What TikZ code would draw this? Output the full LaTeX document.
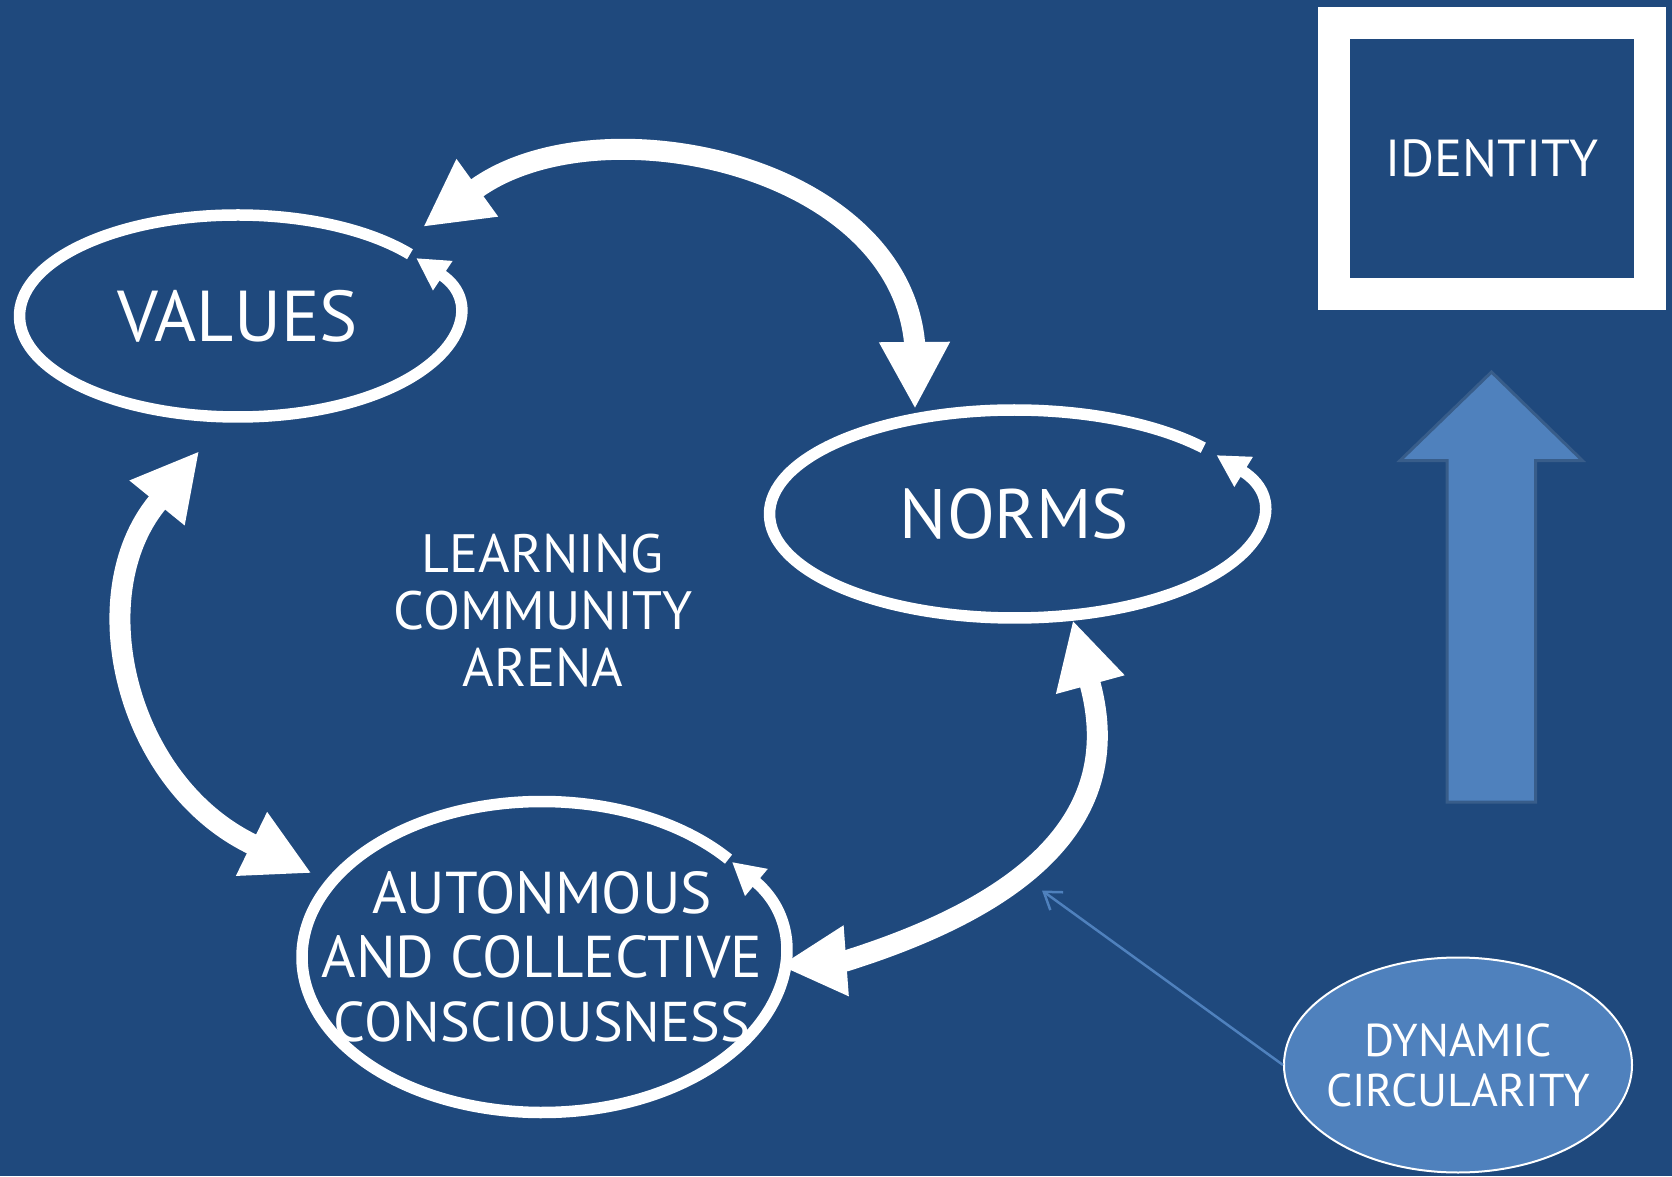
\documentclass[tikz,border=0pt]{standalone}
\usepackage{fontspec}
\setmainfont{PT Sans}
\usetikzlibrary{calc}
\usetikzlibrary{arrows.meta,shapes.geometric}
\definecolor{bgblue}{HTML}{1F497D}
\definecolor{ltblue}{HTML}{4F81BD}
\definecolor{edblue}{HTML}{385D8A}
\newcommand*{\ringwd }{11.5pt}
\newcommand*{\bigwd  }{21pt}
\newcommand*{\fsz}[2]{\fontsize{#1}{#2}\selectfont}
\tikzset{
    ringarrow/.style={draw=white, line width=\ringwd, -{Triangle[length=32pt,width=33pt]}},
    bigarrow/.style ={draw=white, line width=\bigwd, {Triangle[length=67pt,width=66pt]}-{Triangle[length=67pt,width=66pt]}},
    whitetext/.style={text=white, align=center, inner sep=0pt},
}

\begin{document}
\begin{tikzpicture}[x=1pt, y=1pt]
    \useasboundingbox (0,0) rectangle (1672,1176);
    \fill [bgblue] (0,0) rectangle (1672,1176);
    % the three circles
    \node [whitetext, font=\fsz{72}{72}] (val) at (237.5,860) {VALUES};
    \node [whitetext, font=\fsz{70}{70}] (nrm) at (1014.5,662) {NORMS};
    \node [whitetext, font=\fsz{59}{64}] (acc) at (542,219) {AUTONMOUS\\AND COLLECTIVE\\{\fsz{56}{64}CONSCIOUSNESS}};
    \node [whitetext, font=\fsz{54}{57}] (arena) at (543,565.5) {LEARNING\\COMMUNITY\\ARENA};
    \draw [ringarrow] ($(val)+(37.7:218 and 101)$) arc [start angle=37.7, end angle=395, x radius=218, y radius=101];
    \draw [ringarrow] ($(nrm)+(39.6:245 and 104)$) arc [start angle=39.6, end angle=394.5, x radius=245, y radius=104];
    \draw [ringarrow] ($(acc)+(39:240 and 155.5)$) arc [start angle=39, end angle=397.7, x radius=240, y radius=155.5];
    % arrows between them
    \coordinate (vn1) at (423,949);    \coordinate (vn2) at (915,767);
    \coordinate (va1) at (199.3,725);  \coordinate (va2) at (311.7,302.7);
    \coordinate (na1) at (1072.7,556); \coordinate (na2) at (779.4,210.3);
    \draw [bigarrow] (vn1) -- (477,988) .. controls (599.7,1074.4) and (896.5,1013.1) .. (914.5,834) -- (vn2);
    \draw [bigarrow] (va1) -- (157,673) .. controls (81.3,579.9) and (125.8,393.5) .. (251.7,332) -- (va2);
    \draw [bigarrow] (na1) -- (1089.8,493.2) .. controls (1129.3,348.4) and (1007.7,266.2) .. (846.2,215.2) -- (na2);
    % identity
    \node [whitetext, draw=white, line width=32pt, minimum width=315.6pt, minimum height=271.3pt, font=\fsz{52}{52}] (id) at (1491.8,1017.4) {IDENTITY};
    \draw [fill=ltblue, draw=edblue, line width=3pt] (1447,374) -- (1447,715.4) -- (1400,715.4) -- (1491.5,804) -- (1582.4,715.4) -- (1535.5,715.4) -- (1535.5,374) -- cycle;
    % dynamic circularity
    \node [ellipse, draw=white, fill=ltblue, line width=2pt, minimum width=348pt, minimum height=215pt, inner sep=0pt] (dyn) at (1458,111) {};
    \node [whitetext, font=\fsz{46}{50}] (dyntxt) at (dyn) {DYNAMIC\\CIRCULARITY};
    \coordinate (dyntip) at (1042,285.5);
    \draw [ltblue, line width=2.5pt, -{Straight Barb[length=16pt,width=22pt]}] (dyn.west) -- (dyntip);
\end{tikzpicture}
\end{document}
